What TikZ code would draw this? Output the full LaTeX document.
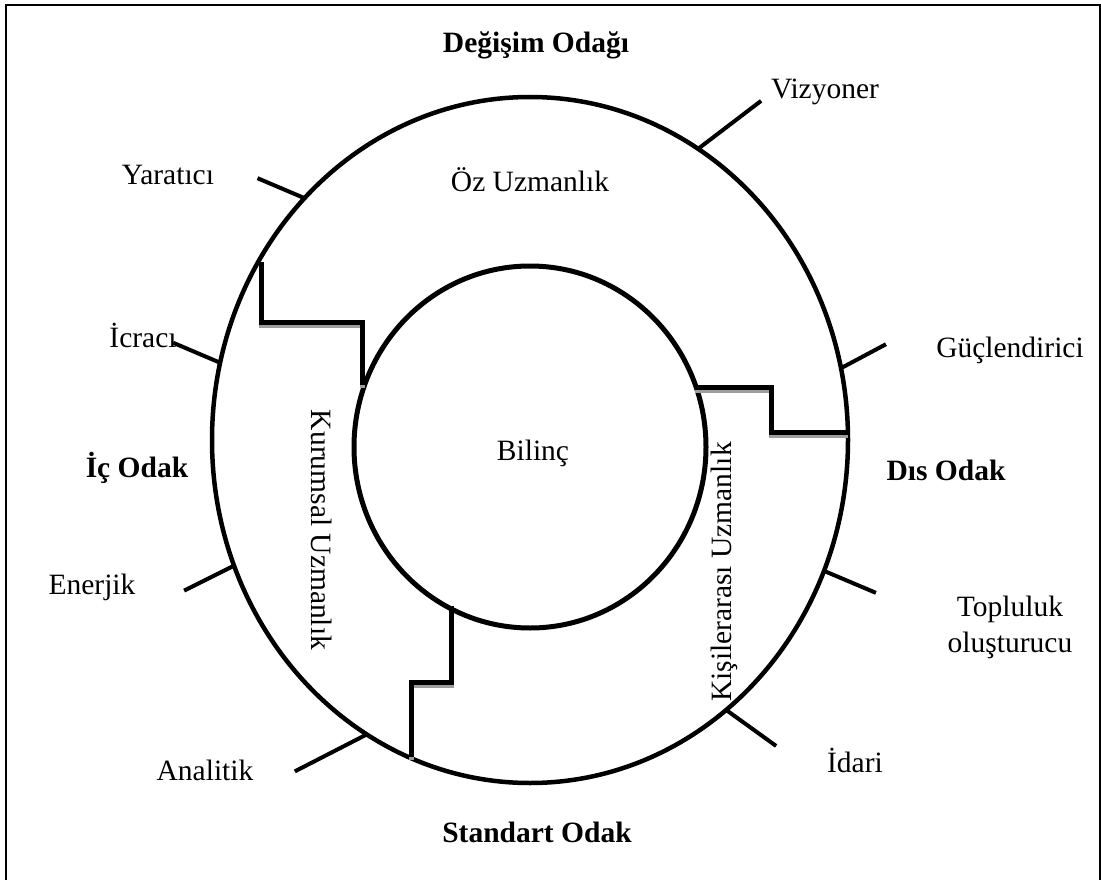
\documentclass[tikz,border=0pt]{standalone}
\usepackage{fontspec}
\setmainfont{Liberation Serif}
\usetikzlibrary{shapes.geometric}
\begin{document}
\begin{tikzpicture}[x=1pt,y=-1pt,
  lbl/.style={font=\fontsize{29.5}{36}\selectfont, inner sep=0pt},
  bold/.style={inner sep=0pt, font=\fontsize{29.5}{36}\selectfont\bfseries},
  ring/.style={draw, ellipse, outer sep=0pt, inner sep=0pt},
  tick/.style={line width=4pt},
  stair/.style={line width=5pt, miter limit=10},
  stairshade/.style={line width=5pt, draw=black!38}]
\useasboundingbox (0,0) rectangle (1101,880);
% frame, open at the bottom
\begin{scope}
  \clip (0,0) rectangle (1101,880);
  \draw[line width=2pt] (6,890) -- (6,5) -- (1100,5) -- (1100,890);
\end{scope}

% the two rings
\node[ring, line width=4.5pt, minimum width=636pt, minimum height=686pt] (outer) at (530,440) {};
\node[ring, line width=5pt, minimum width=352pt, minimum height=362pt] (inner) at (530,447) {};

% stepped dividers with their grey shading
\begin{scope}[yshift=-3pt]
  \draw[stairshade] (261,262) -- (261,322) -- (362,322) -- (362,385);
  \draw[stairshade] (695,387) -- (771,387) -- (771,432) -- (848,432);
  \draw[stairshade] (451,606) -- (451,682) -- (411,682) -- (411,757);
\end{scope}
\draw[stair] (261,262) -- (261,322) -- (362,322) -- (362,385);
\draw[stair] (695,387) -- (771,387) -- (771,432) -- (848,432);
\draw[stair] (451,606) -- (451,682) -- (411,682) -- (411,757);

% short marks on the outer ring
\draw[tick] (outer.60.5)  -- ++(63,-48);
\draw[tick] (outer.133.9) -- ++(-47,-20);
\draw[tick] (outer.166)   -- ++(-47,-20);
\draw[tick] (outer.13.1)  -- ++(45,-24);
\draw[tick] (outer.203.9) -- ++(-50,25);
\draw[tick] (outer.-24.8) -- ++(52,22);
\draw[tick] (outer.241.1) -- ++(-72,37);
\draw[tick] (outer.-54)   -- ++(50,36);

% focus labels
\node[bold] (degisim)  at (536,45)  {Değişim Odağı};
\node[bold] (icodak)   at (137,468) {İç Odak};
\node[bold] (disodak)  at (946,470) {Dıs Odak};
\node[bold] (standart) at (537,832) {Standart Odak};

% ring labels
\node[lbl] (oz)     at (530,180) {Öz Uzmanlık};
\node[lbl] (bilinc) at (533,453) {Bilinç};
\node[lbl, rotate=-90] (kurumsal) at (322,530) {Kurumsal Uzmanlık};
\node[lbl, rotate=90]  (kisiler)  at (724,572) {Kişilerarası Uzmanlık};

% style labels
\node[lbl] (vizyoner)  at (825,92)  {Vizyoner};
\node[lbl] (yaratici)  at (168,175) {Yaratıcı};
\node[lbl] (icraci)    at (143,335) {İcracı};
\node[lbl] (guc)       at (1010,350) {Güçlendirici};
\node[lbl] (enerjik)   at (92,587)  {Enerjik};
\node[lbl, align=center] (topluluk) at (1010,627) {Topluluk\\oluşturucu};
\node[lbl] (analitik)  at (205,770) {Analitik};
\node[lbl] (idari)     at (855,760) {İdari};
\end{tikzpicture}
\end{document}
